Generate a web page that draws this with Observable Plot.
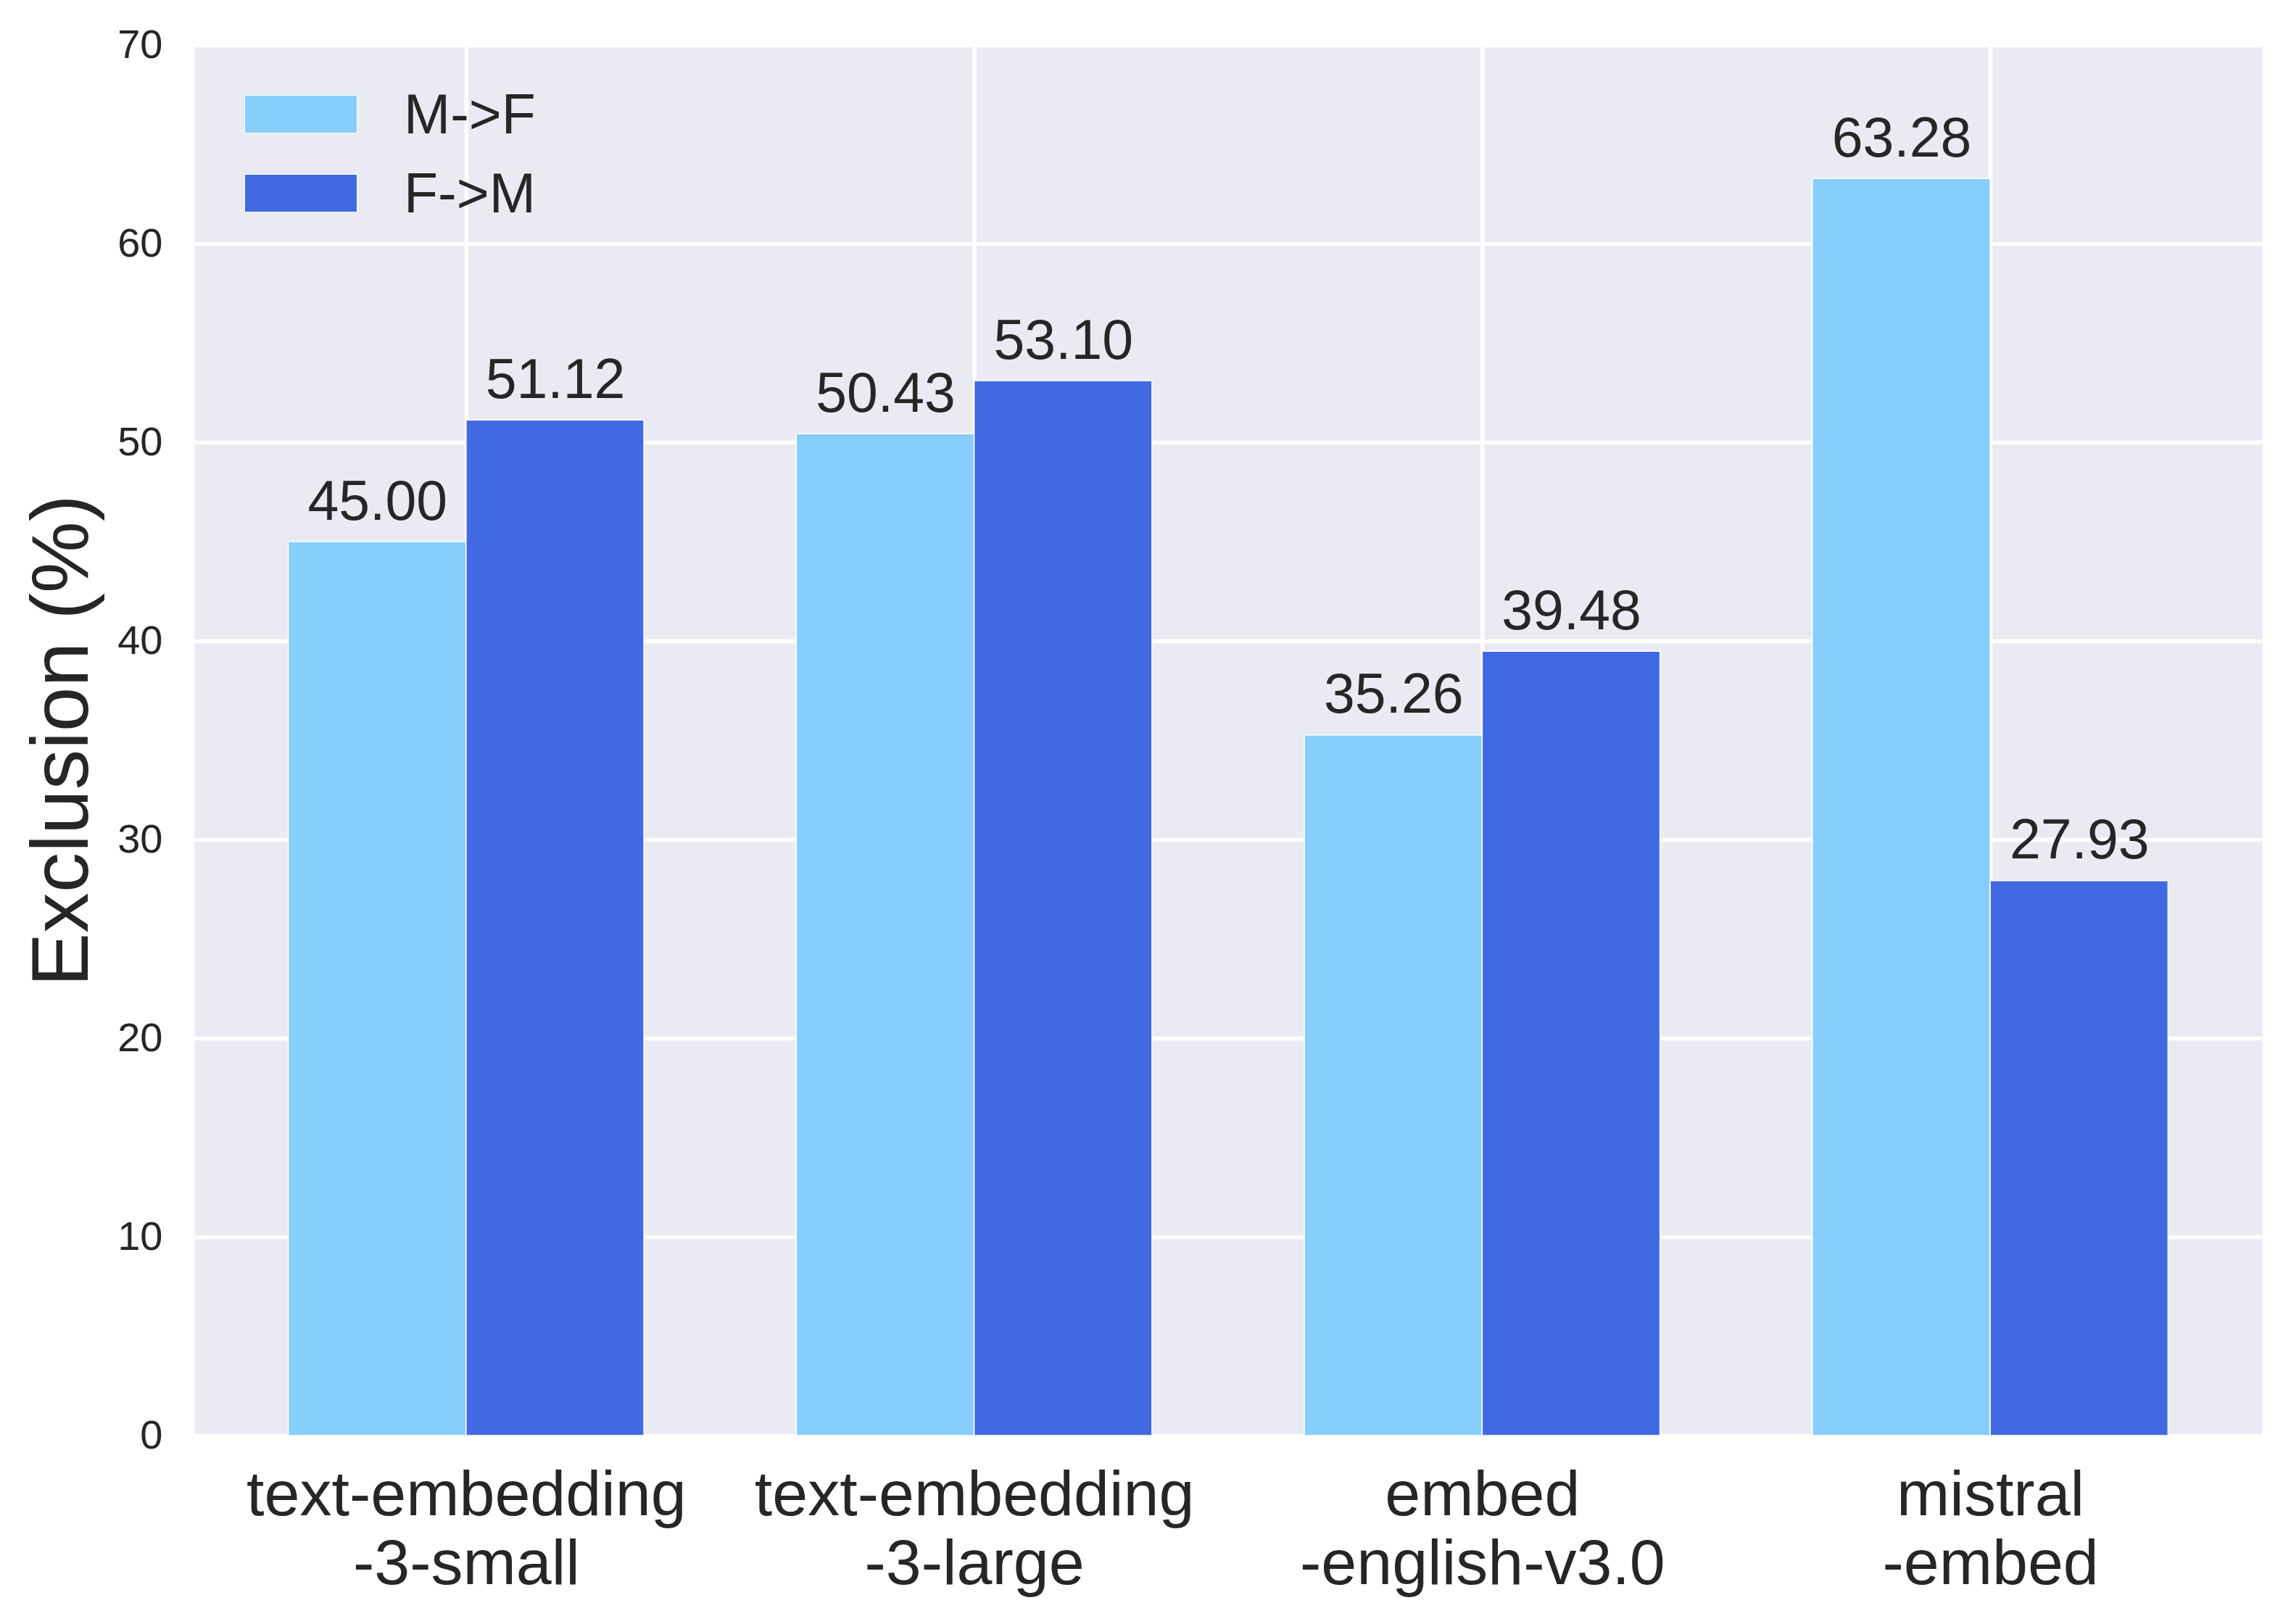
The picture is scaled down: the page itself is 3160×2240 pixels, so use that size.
<!DOCTYPE html>
<html>
<head>
<meta charset="utf-8">
<script src="https://cdn.jsdelivr.net/npm/d3@7"></script>
<script src="https://cdn.jsdelivr.net/npm/@observablehq/plot@0.6"></script>
<style>
  html, body { margin: 0; padding: 0; background: #fff; overflow: hidden; }
  #wrap { position: relative; width: 3160px; height: 2240px; font-family: "Liberation Sans", Arial, sans-serif; color: #262626; }
  .legend { position: absolute; left: 337px; top: 131px; }
  .item { display: flex; align-items: center; height: 53px; margin-bottom: 56px; }
  .sw { width: 154px; height: 51px; border: 1px solid #fff; }
  .lab { font-size: 77px; margin-left: 64px; line-height: 53px; }
</style>
</head>
<body>
<div id="wrap"></div>
<script>
const categories = ["text-embedding\n-3-small", "text-embedding\n-3-large", "embed\n-english-v3.0", "mistral\n-embed"];
const series = ["M->F", "F->M"];
const mfValues = [45.00, 50.43, 35.26, 63.28];
const fmValues = [51.12, 53.10, 39.48, 27.93];
const colors = ["#87CEFA", "#4169E1"];
const yTicks = [0, 10, 20, 30, 40, 50, 60, 70];
const barWidth = 0.35;

const rows = [];
categories.forEach((c, i) => {
  rows.push({cat: i, s: 0, series: series[0], value: mfValues[i]});
  rows.push({cat: i, s: 1, series: series[1], value: fmValues[i]});
});
const xTicks = categories.map((c, i) => i);

const font = "'Liberation Sans', Arial, sans-serif";
const chart = Plot.plot({
  width: 3160,
  height: 2240,
  marginLeft: 268,
  marginRight: 40,
  marginTop: 62,
  marginBottom: 260,
  style: {fontFamily: font, color: "#262626", background: "white"},
  x: {domain: [-0.535, 3.535]},
  y: {domain: [0, 70]},
  color: {domain: series, range: colors},
  marks: [
    Plot.frame({fill: "#EAEAF2", stroke: null}),
    Plot.gridY(yTicks, {stroke: "white", strokeOpacity: 1, strokeWidth: 5.5}),
    Plot.gridX(xTicks, {stroke: "white", strokeOpacity: 1, strokeWidth: 5.5}),
    Plot.rect(rows, {
      x1: d => d.cat - barWidth + d.s * barWidth,
      x2: d => d.cat + d.s * barWidth,
      y1: d => 0,
      y2: "value",
      fill: "series",
      stroke: "white",
      strokeWidth: 1.5
    }),
    Plot.text(rows, {
      x: d => d.cat - barWidth / 2 + d.s * barWidth,
      y: "value",
      text: d => d.value.toFixed(2),
      dy: -31,
      lineAnchor: "bottom",
      textAnchor: "middle",
      fontSize: 77,
      fill: "#262626"
    }),
    Plot.axisY(yTicks, {tickSize: 0, tickPadding: 44, fontSize: 56, label: null, fill: "#262626"}),
    Plot.axisX(xTicks, {
      tickSize: 0, tickPadding: 42, fontSize: 88, lineHeight: 1.08, label: null,
      tickFormat: i => categories[i], fill: "#262626"
    }),
    Plot.text(["Exclusion (%)"], {
      frameAnchor: "left",
      rotate: -90,
      dx: -148,
      lineAnchor: "bottom",
      textAnchor: "middle",
      text: d => d,
      fontSize: 111,
      fill: "#262626"
    })
  ]
});

const wrap = document.getElementById("wrap");
wrap.appendChild(chart);
const legend = document.createElement("div");
legend.className = "legend";
series.forEach((s, k) => {
  const item = document.createElement("div");
  item.className = "item";
  const sw = document.createElement("div");
  sw.className = "sw";
  sw.style.background = colors[k];
  const lab = document.createElement("div");
  lab.className = "lab";
  lab.textContent = s;
  item.appendChild(sw);
  item.appendChild(lab);
  legend.appendChild(item);
});
wrap.appendChild(legend);
</script>
</body>
</html>
